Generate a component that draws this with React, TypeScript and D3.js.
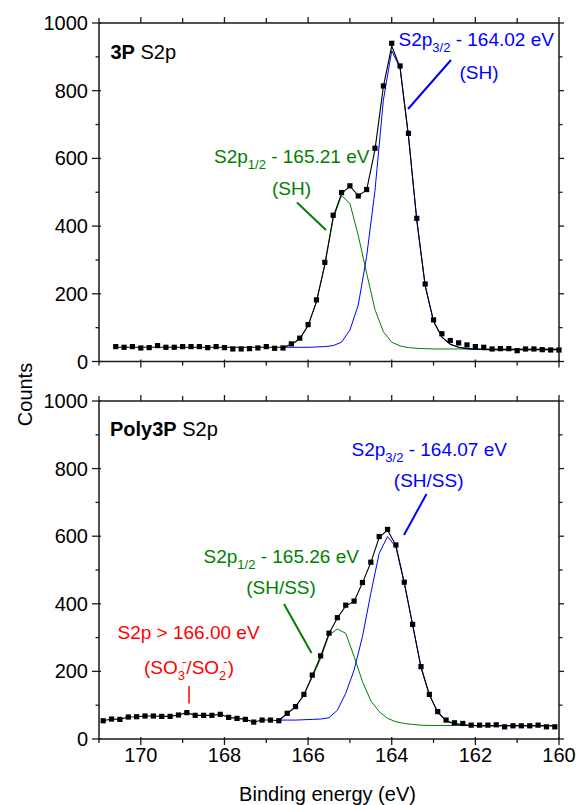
import React from "react";
import * as d3 from "d3";

// ---------- DATA ----------
const energyTop = [170.6,170.4,170.2,170.0,169.8,169.6,169.4,169.2,169.0,168.8,168.6,168.4,168.2,168.0,167.8,167.6,167.4,167.2,167.0,166.8,166.6,166.4,166.2,166.0,165.8,165.6,165.4,165.2,165.0,164.8,164.6,164.4,164.2,164.0,163.8,163.6,163.4,163.2,163.0,162.8,162.6,162.4,162.2,162.0,161.8,161.6,161.4,161.2,161.0,160.8,160.6,160.4,160.2,160.0];
const countsTop = [44,42,44,40,41,47,42,42,44,44,44,41,44,41,37,37,38,40,44,39,40,52,69,109,182,293,432,499,519,489,508,630,814,940,873,674,423,229,123,82,62,55,49,44,42,37,38,38,32,37,37,35,34,34];
const envelopeTop = [42,42,42,42,42,42,42,42,42,42,42,42,42,42,42,42,42,42,42,42,42,50,67,106,177,287,427,496,518,490,506,626,812,932,868,667,417,224,119,72,51,42,38,36,35,35,35,35,35,35,35,35,35,35];
const fitEnergyTop = [166.6,166.4,166.2,166.0,165.8,165.6,165.4,165.2,165.0,164.8,164.6,164.4,164.2,164.0,163.8,163.6,163.4,163.2,163.0,162.8,162.6,162.4,162.2,162.0,161.8,161.6,161.4,161.2,161.0,160.8,160.6,160.4,160.2,160.0];
const s2p32Top = [42,42,42,42,43,44,47,57,93,167,310,506,772,918,866,666,417,224,119,72,51,42,38,36,36,35,35,35,35,35,35,35,35,35];
const s2p12Top = [42,50,67,106,176,285,422,490,467,372,261,153,88,57,46,41,39,38,37,37,37,37,37,37,37,37,37,37,37,37,37,37,37,37];

const energyBottom = [170.9,170.7,170.5,170.3,170.1,169.9,169.7,169.5,169.3,169.1,168.9,168.7,168.5,168.3,168.1,167.9,167.7,167.5,167.3,167.1,166.9,166.7,166.5,166.3,166.1,165.9,165.7,165.5,165.3,165.1,164.9,164.7,164.5,164.3,164.1,163.9,163.7,163.5,163.3,163.1,162.9,162.7,162.5,162.3,162.1,161.9,161.7,161.5,161.3,161.1,160.9,160.7,160.5,160.3,160.1];
const countsBottom = [54,59,58,65,66,68,68,67,67,71,78,70,70,70,73,64,61,58,50,56,56,54,76,96,132,189,246,313,359,396,408,463,523,599,620,574,464,339,214,132,81,56,48,46,41,41,41,42,36,39,39,39,41,36,36];
const envelopeBottom = [54,59,58,65,66,68,68,67,67,71,78,70,70,70,73,64,61,58,50,56,56,54,75,95,131,187,245,312,358,394,407,462,522,597,618,573,463,338,213,131,80,54,46,42,40,39,39,39,39,39,39,39,39,39,39];
const fitEnergyBottom = [166.7,166.5,166.3,166.1,165.9,165.7,165.5,165.3,165.1,164.9,164.7,164.5,164.3,164.1,163.9,163.7,163.5,163.3,163.1,162.9,162.7,162.5,162.3,162.1,161.9,161.7,161.5,161.3,161.1,160.9,160.7,160.5,160.3,160.1];
const s2p32Bottom = [56,56,56,57,58,59,63,85,135,204,303,431,549,599,568,461,337,212,130,79,53,45,42,40,39,39,39,39,39,39,39,39,39,39];
const s2p12Bottom = [56,76,96,131,183,238,308,325,313,244,170,113,81,61,51,46,43,41,40,40,40,40,40,40,40,40,40,40,40,40,40,40,40,40];

const xTicksMajor = [170, 168, 166, 164, 162, 160];
const xTicksMinor = [171, 169, 167, 165, 163, 161];
const yTicksMajor = [0, 200, 400, 600, 800, 1000];
const yTicksMinor = [100, 300, 500, 700, 900];

// ---------- STYLE ----------
const FONT = "'Liberation Sans', Arial, Helvetica, sans-serif";
const BLUE = "#0000ff";
const GREEN = "#008000";
const RED = "#ff0000";
const AXIS = "#1a1a1a";

const W = 577;
const H = 805;
const X0 = 99;
const X1 = 559;

const x = d3.scaleLinear().domain([171, 160]).range([X0, X1]);

type PanelProps = {
  top: number;
  bottom: number;
  energy: number[];
  counts: number[];
  envelope: number[];
  fitEnergy: number[];
  blue: number[];
  green: number[];
  showXLabels: boolean;
};

function Panel(p: PanelProps) {
  const y = d3.scaleLinear().domain([0, 1000]).range([p.bottom, p.top]);
  const mkLine = (xs: number[]) =>
    d3
      .line<number>()
      .x((_, i) => x(xs[i]))
      .y((v) => y(v));
  const envPath = mkLine(p.energy)(p.envelope) || "";
  const bluePath = mkLine(p.fitEnergy)(p.blue) || "";
  const greenPath = mkLine(p.fitEnergy)(p.green) || "";
  return (
    <g>
      <path d={greenPath} fill="none" stroke={GREEN} strokeWidth={1} />
      <path d={bluePath} fill="none" stroke={BLUE} strokeWidth={1} />
      <path d={envPath} fill="none" stroke="#000" strokeWidth={1.1} />
      {p.counts.map((c, i) => (
        <rect key={i} x={x(p.energy[i]) - 2.6} y={y(c) - 2.6} width={5.2} height={5.2} fill="#000" />
      ))}
      {/* frame */}
      <rect x={X0} y={p.top} width={X1 - X0} height={p.bottom - p.top} fill="none" stroke={AXIS} strokeWidth={1.5} />
      {/* left/right ticks */}
      {yTicksMajor.map((t) => (
        <g key={"ym" + t}>
          <line x1={X0 - 7} x2={X0 + 2} y1={y(t)} y2={y(t)} stroke={AXIS} strokeWidth={1.3} />
          <line x1={X1} x2={X1 + 5} y1={y(t)} y2={y(t)} stroke={AXIS} strokeWidth={1.3} />
          <text x={X0 - 11} y={y(t) + 7} textAnchor="end" fontSize={20} fontFamily={FONT} fill="#000">
            {t}
          </text>
        </g>
      ))}
      {yTicksMinor.map((t) => (
        <g key={"yn" + t}>
          <line x1={X0 - 3.5} x2={X0} y1={y(t)} y2={y(t)} stroke={AXIS} strokeWidth={1.3} />
          <line x1={X1} x2={X1 + 3.5} y1={y(t)} y2={y(t)} stroke={AXIS} strokeWidth={1.3} />
        </g>
      ))}
      {/* top/bottom ticks */}
      {xTicksMajor.map((t) => (
        <g key={"xm" + t}>
          <line x1={x(t)} x2={x(t)} y1={p.top} y2={p.top - 6} stroke={AXIS} strokeWidth={1.3} />
          <line x1={x(t)} x2={x(t)} y1={p.bottom - 2} y2={p.bottom + 6} stroke={AXIS} strokeWidth={1.3} />
          {p.showXLabels && (
            <text x={x(t)} y={762} textAnchor="middle" fontSize={20} fontFamily={FONT} fill="#000">
              {t}
            </text>
          )}
        </g>
      ))}
      {xTicksMinor.map((t) => (
        <g key={"xn" + t}>
          <line x1={x(t)} x2={x(t)} y1={p.top} y2={p.top - 5} stroke={AXIS} strokeWidth={1.3} />
          <line x1={x(t)} x2={x(t)} y1={p.bottom} y2={p.bottom + 4} stroke={AXIS} strokeWidth={1.3} />
        </g>
      ))}
    </g>
  );
}

export default function App() {
  return (
    <svg
      width={W}
      height={H}
      viewBox={`0 0 ${W} ${H}`}
      style={{ position: "absolute", left: 0, top: 0, background: "#fff" }}
      fontFamily={FONT}
    >
      <rect x={0} y={0} width={W} height={H} fill="#fff" />
      <Panel
        top={23}
        bottom={361.5}
        energy={energyTop}
        counts={countsTop}
        envelope={envelopeTop}
        fitEnergy={fitEnergyTop}
        blue={s2p32Top}
        green={s2p12Top}
        showXLabels={false}
      />
      <Panel
        top={401}
        bottom={739}
        energy={energyBottom}
        counts={countsBottom}
        envelope={envelopeBottom}
        fitEnergy={fitEnergyBottom}
        blue={s2p32Bottom}
        green={s2p12Bottom}
        showXLabels={true}
      />

      {/* axis titles */}
      <text transform="translate(32,394.5) rotate(-90)" textAnchor="middle" fontSize={20} fill="#000">
        Counts
      </text>
      <text x={327.5} y={801} textAnchor="middle" fontSize={20} fill="#000">
        Binding energy (eV)
      </text>

      {/* panel labels */}
      <text x={110.5} y={58.5} fontSize={20} fill="#000">
        <tspan fontWeight="bold">3P</tspan>
        <tspan> S2p</tspan>
      </text>
      <text x={110} y={435.5} fontSize={20} fill="#000">
        <tspan fontWeight="bold">Poly3P</tspan>
        <tspan> S2p</tspan>
      </text>

      {/* top annotations */}
      <text x={398.5} y={46} fontSize={19} fill={BLUE}>
        S2p
        <tspan fontSize={13} dy={6}>3/2</tspan>
        <tspan dy={-6}> - 164.02 eV</tspan>
      </text>
      <text x={479} y={78.5} fontSize={19} fill={BLUE} textAnchor="middle">
        (SH)
      </text>
      <line x1={451} y1={60} x2={408} y2={109} stroke={BLUE} strokeWidth={2} />

      <text x={214} y={162.5} fontSize={19} fill={GREEN}>
        S2p
        <tspan fontSize={13} dy={6}>1/2</tspan>
        <tspan dy={-6}> - 165.21 eV</tspan>
      </text>
      <text x={291.5} y={194.5} fontSize={19} fill={GREEN} textAnchor="middle">
        (SH)
      </text>
      <line x1={297} y1={202.5} x2={326} y2={230} stroke={GREEN} strokeWidth={2} />

      {/* bottom annotations */}
      <text x={351.5} y={456} fontSize={19} fill={BLUE}>
        S2p
        <tspan fontSize={13} dy={6}>3/2</tspan>
        <tspan dy={-6}> - 164.07 eV</tspan>
      </text>
      <text x={428.7} y={486.5} fontSize={19} fill={BLUE} textAnchor="middle">
        (SH/SS)
      </text>
      <line x1={426.5} y1={494} x2={404} y2={535} stroke={BLUE} strokeWidth={2} />

      <text x={203.5} y={562.5} fontSize={19} fill={GREEN}>
        S2p
        <tspan fontSize={13} dy={6}>1/2</tspan>
        <tspan dy={-6}> - 165.26 eV</tspan>
      </text>
      <text x={281} y={593.5} fontSize={19} fill={GREEN} textAnchor="middle">
        (SH/SS)
      </text>
      <line x1={284} y1={604} x2={311.5} y2={653} stroke={GREEN} strokeWidth={2} />

      <text x={117.5} y={638.5} fontSize={19} fill={RED}>
        S2p &gt; 166.00 eV
      </text>
      <text x={189} y={673.5} fontSize={19} fill={RED} textAnchor="middle">
        (SO
        <tspan fontSize={13} dy={6}>3</tspan>
        <tspan fontSize={13} dx={-3} dy={-14}>-</tspan>
        <tspan dy={8}>/SO</tspan>
        <tspan fontSize={13} dy={6}>2</tspan>
        <tspan fontSize={13} dx={-3} dy={-14}>-</tspan>
        <tspan dy={8}>)</tspan>
      </text>
      <line x1={189} y1={686} x2={189} y2={703.5} stroke={RED} strokeWidth={1.5} />
    </svg>
  );
}
